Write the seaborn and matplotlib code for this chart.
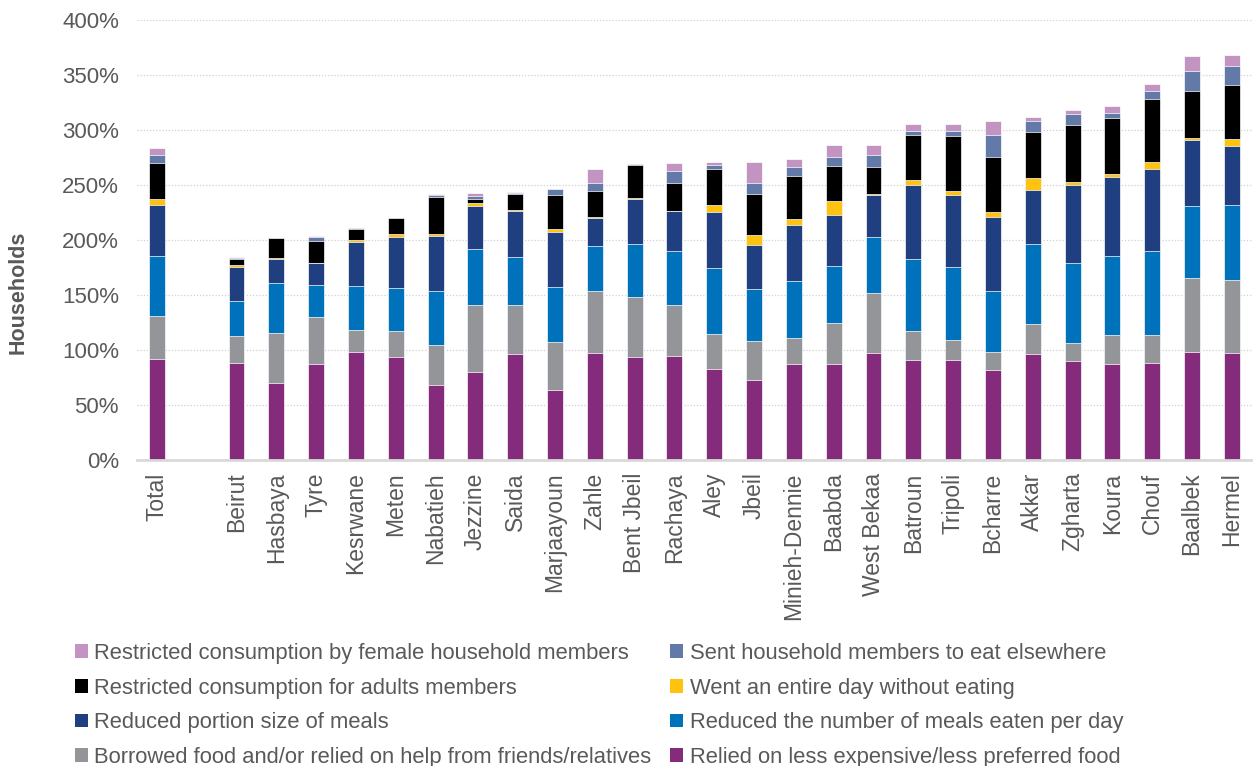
import numpy as np
import pandas as pd
import matplotlib
matplotlib.use('Agg')
import matplotlib.pyplot as plt
import seaborn as sns
from matplotlib.patches import Patch
from matplotlib.ticker import FuncFormatter

sns.set_theme(style='white')
plt.rcParams['font.family'] = ['Liberation Sans', 'DejaVu Sans']

districts = ['Total', 'Beirut', 'Hasbaya', 'Tyre', 'Kesrwane', 'Meten', 'Nabatieh', 'Jezzine',
             'Saida', 'Marjaayoun', 'Zahle', 'Bent Jbeil', 'Rachaya', 'Aley', 'Jbeil',
             'Minieh-Dennie', 'Baabda', 'West Bekaa', 'Batroun', 'Tripoli', 'Bcharre', 'Akkar',
             'Zgharta', 'Koura', 'Chouf', 'Baalbek', 'Hermel']

# coping strategies, bottom of the stack first (values in %)
less_expensive = [92, 88, 70, 87, 98, 93.5, 68.6, 79.8, 95.9, 63.4, 97.1, 93.8, 94.7, 82.8, 72.6,
                  87.4, 87.1, 97.1, 90.8, 90.8, 81.7, 96.2, 89.6, 86.8, 88.6, 98.4, 97.4]
borrowed = [39, 24.9, 45.3, 43.1, 20, 23.7, 35.5, 60.8, 45.3, 43.8, 56.2, 54, 46.5, 31.4, 35.5,
            23.4, 37.4, 55, 26.1, 18.5, 16.9, 27.6, 16.7, 27, 25.2, 67.4, 66.5]
fewer_meals = [54.4, 31.3, 45.5, 29.2, 39.8, 39.1, 49.8, 51, 43.1, 49.7, 41, 48.9, 48.5, 60.2, 47.6,
               52.2, 52.2, 51, 66.2, 65.9, 55.1, 72.9, 72.3, 71.6, 76.2, 64.7, 68]
smaller_portions = [46.7, 31.3, 21.9, 19.7, 40.3, 46.8, 50.1, 39.7, 41.6, 50.4, 26.1, 40.1, 36.5, 51.3, 40.1,
                    50.7, 46.4, 37.9, 66.7, 65.8, 67, 48.3, 71.4, 71.6, 74.7, 60.1, 53.4]
entire_day = [4.9, 1.5, 0.5, 0.3, 2.2, 2.4, 1.8, 1.9, 1.2, 2.8, 0.6, 1.5, 0.3, 5.7, 8.8,
              5.5, 12.2, 0.8, 4.9, 3.4, 5.1, 11.5, 2.4, 3.3, 6.1, 2.1, 6.1]
adults = [32.5, 6.1, 18.5, 20.1, 10, 14.9, 32.8, 4.2, 14.6, 30.9, 23.7, 30.1, 24.9, 33.4, 37.1,
          39.1, 31.5, 24.2, 41, 49.8, 49.5, 41.6, 51.9, 50.1, 57.7, 42.8, 49.2]
sent_elsewhere = [7.3, 0.9, 0.5, 3, 0.3, 0, 2.1, 2.7, 0.9, 5.2, 7.3, 0.9, 10.9, 3.7, 10.3,
                  8.2, 8.9, 11.3, 3.3, 4.8, 19.8, 10, 10, 4.6, 6.7, 18.2, 17.9]
female = [7.2, 0.6, 0, 0.9, 0, 0, 0.9, 2.5, 0.9, 0, 12.7, 0, 7.6, 2.1, 18.8,
          6.7, 10.6, 9.1, 6.1, 6.1, 13.2, 4, 3.6, 7, 6.1, 13.7, 9.7]

labels = ['Relied on less expensive/less preferred food',
          'Borrowed food and/or relied on help from friends/relatives',
          'Reduced the number of meals eaten per day',
          'Reduced portion size of meals',
          'Went an entire day without eating',
          'Restricted consumption for adults members',
          'Sent household members to eat elsewhere',
          'Restricted consumption by female household members']
colors = ['#852B7C', '#949598', '#0071BB', '#1F3F80', '#FFC20E', '#000000', '#637AA8', '#C394C2']

series = [less_expensive, borrowed, fewer_meals, smaller_portions, entire_day, adults,
          sent_elsewhere, female]
df = pd.DataFrame(dict(zip(labels, series)), index=districts)
cum = df.cumsum(axis=1)

order = ['Total', ' '] + districts[1:]

fig, ax = plt.subplots(figsize=(12.53, 7.66), dpi=100)
fig.subplots_adjust(left=0.1093, right=0.999, bottom=0.3995, top=0.974)

# draw cumulative totals from the top layer down so each one overlays the previous
for lab, col in zip(labels[::-1], colors[::-1]):
    sns.barplot(x=districts, y=cum[lab].values, order=order, color=col, width=0.4,
                saturation=1, edgecolor='white', linewidth=0.5, errorbar=None, ax=ax)

ax.set_ylim(0, 400)
ax.set_xlim(-0.5, len(order) - 0.5)
ax.set_yticks(np.arange(0, 401, 50))
ax.yaxis.set_major_formatter(FuncFormatter(lambda v, p: f'{v:.0f}%'))
ax.yaxis.grid(True, color='#D0D0D0', linestyle=(0, (1, 1.5)), linewidth=0.9)
ax.set_axisbelow(True)
sns.despine(ax=ax, left=True)
ax.spines['bottom'].set_color('#D9D9D9')
ax.spines['bottom'].set_linewidth(2)
ax.tick_params(axis='y', length=0, pad=13, labelsize=16, labelcolor='#595959')
ax.tick_params(axis='x', length=0, pad=9, labelsize=16.5, labelcolor='#595959', rotation=90)
ax.set_xlabel('')
ax.set_ylabel('Households', fontsize=15.5, fontweight='bold', color='#595959')
ax.yaxis.set_label_coords(-0.097, 0.38)

# legend laid out row-wise: top layer first
leg_order = [7, 5, 3, 1, 6, 4, 2, 0]
handles = [Patch(facecolor=colors[i], edgecolor='none') for i in leg_order]
fig.legend(handles, [labels[i] for i in leg_order], ncol=2, loc='upper left',
           bbox_to_anchor=(0.0595, 1 - 643 / 766), frameon=False, fontsize=15.8,
           labelcolor='#595959', handlelength=0.6, handleheight=0.6, handletextpad=0.3,
           labelspacing=0.62, columnspacing=0.85, borderpad=0, borderaxespad=0)

fig.savefig('out.png', dpi=100)
